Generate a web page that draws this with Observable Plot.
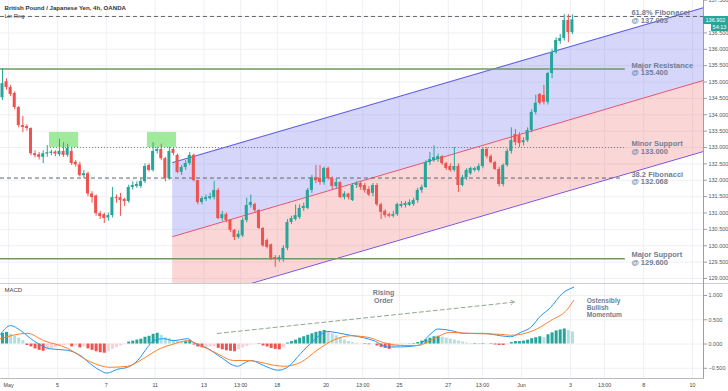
<!DOCTYPE html>
<html><head><meta charset="utf-8">
<script src="https://cdn.jsdelivr.net/npm/d3@7"></script>
<script src="https://cdn.jsdelivr.net/npm/@observablehq/plot@0.6"></script>
<style>
body{margin:0;background:#fff;font-family:"Liberation Sans",Arial,sans-serif;}
#wrap{position:relative;width:728px;height:391px;overflow:hidden;background:#fff;}
#wrap svg{display:block;}
#sep{height:1px;background:#c9ccd3;}
.tag{position:absolute;background:#26a69a;color:#fff;font-size:5.5px;line-height:7px;text-align:center;font-family:"Liberation Sans",Arial,sans-serif;}
</style></head><body>
<div id="wrap"></div>
<script>
// ---------- data ----------
const title = "British Pound / Japanese Yen, 4h, OANDA";
const open  = [134.52,135.01,134.83,134.65,134.22,133.67,133.64,133.58,132.81,132.78,132.70,132.80,132.82,132.86,132.78,132.88,132.76,132.88,132.55,132.47,132.14,132.20,131.58,131.52,130.98,130.95,130.85,130.92,131.47,131.47,131.42,131.35,131.78,131.81,131.81,131.96,132.45,132.30,132.88,132.94,132.66,132.05,132.94,132.76,132.24,132.39,132.51,132.76,131.99,131.32,131.41,131.44,131.47,131.69,130.83,130.95,130.77,130.47,130.25,130.30,130.77,131.23,131.26,131.08,130.53,130.16,130.03,129.64,129.58,129.58,129.92,130.71,130.80,130.86,131.14,131.14,131.69,132.08,132.05,131.93,132.36,132.05,131.81,131.93,131.47,131.58,131.38,131.84,131.90,131.84,131.72,131.60,131.84,131.25,131.05,130.95,130.90,130.95,131.20,131.23,131.23,131.26,131.38,131.69,131.78,132.54,132.60,132.63,132.72,132.51,132.42,132.30,132.42,131.84,132.08,132.20,132.30,132.30,132.42,132.94,132.72,132.54,132.33,131.87,132.45,132.88,133.40,133.36,133.15,133.21,133.52,134.07,134.62,134.59,134.38,135.26,135.90,136.24,136.33,136.88,136.51];
const high  = [135.41,135.10,134.90,134.70,134.25,133.95,133.70,133.60,132.90,132.85,132.90,133.06,132.92,132.90,133.25,133.15,133.10,133.00,132.60,132.55,132.30,132.25,131.65,131.55,131.05,131.00,131.00,131.78,131.55,131.60,131.45,131.85,131.95,131.95,132.05,132.50,132.50,133.15,133.00,133.10,132.70,133.00,133.00,132.80,132.45,132.60,132.85,132.80,132.00,131.50,131.55,131.60,131.96,131.75,131.05,131.00,130.80,130.50,130.45,130.85,131.45,131.55,131.30,131.10,130.55,130.20,130.05,129.70,129.70,130.00,130.80,130.90,131.25,131.25,131.30,131.75,132.15,132.45,132.45,132.40,132.40,132.10,132.05,131.95,131.65,131.60,131.90,131.95,131.95,131.90,131.80,131.90,131.90,131.30,131.10,131.00,131.05,131.30,131.35,131.35,131.40,131.45,131.75,131.85,132.60,132.85,133.05,132.80,132.75,132.55,132.50,133.00,132.50,132.15,132.35,132.40,132.40,132.50,133.00,133.00,132.78,132.58,132.40,132.50,132.95,133.60,133.55,133.45,133.30,133.60,134.15,134.60,134.65,134.90,135.30,136.00,136.35,136.45,137.06,137.06,137.05];
const low   = [134.44,134.75,134.55,134.15,133.60,133.45,133.50,132.75,132.68,132.62,132.51,132.70,132.75,132.72,132.72,132.70,132.70,132.45,132.40,132.10,132.05,131.50,131.30,130.90,130.80,130.68,130.75,130.85,131.30,130.90,131.20,131.30,131.70,131.75,131.75,131.90,132.25,132.25,132.80,132.60,131.95,132.00,132.75,132.20,132.15,132.30,132.45,131.95,131.25,131.25,131.35,131.40,131.40,130.80,130.75,130.70,130.40,130.16,130.20,130.25,130.70,131.15,131.00,130.50,129.95,129.90,129.55,129.34,129.50,129.50,129.85,130.65,130.75,130.80,131.05,131.10,131.60,131.90,131.85,131.85,132.00,131.70,131.75,131.45,131.40,131.40,131.35,131.75,131.70,131.60,131.50,131.50,131.20,130.80,130.85,130.85,130.85,130.90,131.15,131.15,131.20,131.20,131.30,131.60,131.75,132.45,132.55,132.55,132.45,132.30,132.25,132.25,131.63,131.80,132.00,132.15,132.25,132.25,132.35,132.65,132.50,132.30,131.80,131.80,132.40,132.80,133.05,133.00,133.05,133.15,133.45,134.00,134.30,134.30,134.30,135.10,135.85,136.15,136.25,136.20,136.45];
const close = [134.95,134.83,134.62,134.22,133.67,133.61,133.58,132.81,132.75,132.70,132.81,132.84,132.86,132.80,132.88,132.76,132.97,132.51,132.47,132.14,132.20,131.58,131.47,130.98,130.89,130.83,130.92,131.47,131.44,131.38,131.35,131.78,131.84,131.87,131.96,132.42,132.30,132.88,132.94,132.66,132.05,132.88,132.82,132.24,132.39,132.51,132.76,131.99,131.32,131.44,131.47,131.50,131.69,130.83,130.95,130.77,130.47,130.25,130.35,130.77,131.23,131.32,131.08,130.53,130.00,129.95,129.61,129.58,129.64,129.92,130.71,130.83,130.92,131.14,131.20,131.69,132.08,131.99,131.93,132.36,132.05,131.81,131.93,131.47,131.58,131.47,131.84,131.90,131.78,131.68,131.55,131.84,131.25,131.02,130.92,130.90,130.95,131.26,131.26,131.29,131.32,131.38,131.69,131.78,132.54,132.63,132.69,132.72,132.51,132.36,132.30,132.42,131.84,132.08,132.30,132.36,132.36,132.42,132.94,132.72,132.54,132.33,131.87,132.45,132.88,133.21,133.15,133.12,133.21,133.52,134.07,134.35,134.35,134.38,135.26,135.90,136.27,136.33,136.88,136.51,136.90];

// MACD histogram, one bar per candle
const macdHist = [0.22,0.24,0.20,0.16,0.12,0.07,-0.03,-0.06,-0.10,-0.13,-0.15,-0.13,-0.10,-0.07,-0.05,-0.03,-0.02,-0.06,-0.04,-0.08,-0.06,-0.10,-0.13,-0.16,-0.18,-0.19,-0.16,-0.11,-0.07,-0.04,-0.01,0.04,0.06,0.08,0.10,0.14,0.16,0.20,0.22,0.18,0.13,0.11,0.08,0.05,0.04,0.05,0.07,-0.02,-0.06,-0.08,-0.07,-0.06,-0.05,-0.09,-0.12,-0.14,-0.15,-0.16,-0.12,-0.08,-0.05,-0.02,-0.005,-0.01,-0.04,-0.06,-0.09,-0.11,-0.12,-0.08,0.02,0.05,0.08,0.12,0.15,0.18,0.21,0.24,0.26,0.28,0.25,0.21,0.17,0.12,0.08,0.05,0.03,0.015,0.005,-0.01,-0.015,-0.005,-0.04,-0.07,-0.09,-0.11,-0.08,-0.05,-0.02,-0.01,0.005,0.01,0.03,0.06,0.09,0.12,0.15,0.16,0.14,0.12,0.10,0.08,0.06,0.04,0.02,0.01,-0.01,0.005,0.01,0.005,-0.01,-0.02,-0.03,-0.03,-0.01,0.03,0.05,0.05,0.06,0.08,0.11,0.13,0.15,0.13,0.19,0.23,0.27,0.29,0.31,0.28,0.25];
// MACD and signal line, read at candle positions
const macdIdx = [-0.5,2,4.4,7.6,11.8,16,19.2,21.6,24.1,25.6,28.3,30.7,33.2,35.6,37.1,39.6,42,45.5,46.9,50.4,53.6,57.7,59.7,61,64.1,67.6,70,73.2,76.4,79.9,82.3,85.5,88.7,91.2,94.6,97.8,102,105.2,106.9,110,113.3,118.2,122.4,124.8,127.3,129.7,132.2,134.6,137.5,140.3];
const macdVal = [0.2,0.38,0.28,0.07,-0.1,-0.13,-0.24,-0.41,-0.55,-0.6,-0.52,-0.48,-0.34,-0.07,0.07,0.11,0.07,0.11,0.03,-0.09,-0.27,-0.46,-0.38,-0.34,-0.44,-0.54,-0.48,-0.2,0.07,0.26,0.23,0.18,0.13,0.07,-0.06,-0.06,-0.03,0.21,0.31,0.28,0.22,0.22,0.17,0.15,0.24,0.34,0.58,0.75,1.04,1.17];
const signalIdx = [-0.5,6.1,10.1,16,20.9,26.5,30.7,34.6,38.8,42,45.5,48.6,52.8,56.8,60.2,69,73.2,77.4,81.3,85.5,89.7,93.6,97.8,102,105.9,110,114.3,118.2,122.4,124.8,130.5,134.6,138.8,140.3];
const signalVal = [0.11,0.22,0.07,-0.09,-0.34,-0.48,-0.46,-0.3,-0.09,0.0,0.07,-0.03,-0.2,-0.34,-0.34,-0.46,-0.38,-0.12,0.08,0.17,0.14,0.03,-0.03,-0.03,0.11,0.24,0.22,0.21,0.2,0.18,0.28,0.48,0.72,0.9];

// linear regression channel (candle position -> price)
const linRegIdx   = [41.8, 172.2];
const linRegUpper = [132.54, 137.27];
const linRegMid   = [130.28, 135.05];
const linRegLower = [128.15, 132.88];

// horizontal levels
const levelPrice = [137.003, 135.4, 133.0, 132.068, 129.6];
const levelFrom  = [-0.5, -0.5, 11.8, -0.5, -0.5];
const levelTo    = [172.2, 153, 153, 152, 153];
const levelLabel = ["61.8% Fibonacci\n@ 137.003","Major Resistance\n@ 135.400","Minor Support\n@ 133.000","38.2 Fibonacci\n@ 132.068","Major Support\n@ 129.600"];
const levelKind  = ["fib","major","minor","fib","major"];
const labelIdx = 154.5;

// resistance zones (green boxes)
const zoneFrom = [11.55, 35.6];
const zoneTo   = [18.7, 42.75];
const zoneLow = 133.0, zoneHigh = 133.46;

// annotations in MACD pane
const trendFrom = [52.8, 0.217];
const trendTo   = [125.8, 0.864];
const risingText = "Rising\nOrder"; const risingAt = [93.6, 0.975];
const bullText = "Ostensibly\nBullish\nMomentum"; const bullAt = [143.5, 0.74];

// axes (137.000 sits under the last-price tag in the reference)
const priceTicks = [129.0,129.5,130.0,130.5,131.0,131.5,132.0,132.5,133.0,133.5,134.0,134.5,135.0,135.5,136.0,136.5,137.5];
const gridPrices = [129.0,129.5,130.0,130.5,131.0,131.5,132.0,132.5,133.0,133.5,134.0,134.5,135.0,135.5,136.0,136.5,137.0];
const macdTicks = [-0.5, 0.0, 0.5, 1.0];
const tickDays = [0,2,4,6,8,9.5,11,13,14.5,16,18,19.4,21,23,24.4,26,28];
const tickLabels = ["May","5","7","11","13","13:00","18","20","13:00","25","27","13:00","Jun","3","13:00","8","10"];
const lastPrice = "136.902", countdown = "54:13";

// ---------- build ----------
const UP = "#26a69a", DOWN = "#ef5350", GRID = "#eef0f4", LABEL = "#717e93";
const X_DOMAIN = [-0.49, 172.2];
const candles = open.map((o, i) => ({i, o, h: high[i], l: low[i], c: close[i], up: close[i] >= o}));
const channel = linRegIdx.map((x, k) => ({x, upper: linRegUpper[k], mid: linRegMid[k], lower: linRegLower[k]}));
const levels = levelPrice.map((y, k) => ({y, x1: levelFrom[k], x2: levelTo[k], label: levelLabel[k], kind: levelKind[k]}));
const zones = zoneFrom.map((x1, k) => ({x1, x2: zoneTo[k], y1: zoneLow, y2: zoneHigh}));
const xTicks = tickDays.map(d => 1.5 + 6 * d);
const tickMap = new Map(xTicks.map((x, k) => [x, tickLabels[k]]));
const hist = macdHist.map((v, i) => {
  const p = i > 0 ? macdHist[i - 1] : v;
  const col = v >= 0 ? (v >= p ? "#26a69a" : "#b2dfdb") : (v <= p ? "#ef5350" : "#ffcdd2");
  return {i, v, col};
});
const macdPts = macdIdx.map((x, k) => ({x, y: macdVal[k]}));
const sigPts = signalIdx.map((x, k) => ({x, y: signalVal[k]}));
const FONT = "Liberation Sans, Arial, sans-serif";

const main = Plot.plot({
  width: 728, height: 283, marginLeft: 0, marginRight: 25, marginTop: 0, marginBottom: 0,
  style: {fontFamily: FONT, background: "#fff", overflow: "visible"},
  x: {domain: X_DOMAIN, axis: null},
  y: {domain: [128.847, 137.49], axis: null},
  color: {type: "identity"},
  marks: [
    Plot.ruleY(gridPrices, {stroke: GRID}),
    Plot.ruleX(xTicks, {stroke: GRID}),
    Plot.areaY(channel, {x: "x", y1: "mid", y2: "upper", fill: "#5a5af0", fillOpacity: 0.25, clip: true}),
    Plot.areaY(channel, {x: "x", y1: "lower", y2: "mid", fill: "#f05a5a", fillOpacity: 0.25, clip: true}),
    Plot.line(channel, {x: "x", y: "upper", stroke: "#5b5be6", strokeWidth: 1, clip: true}),
    Plot.line(channel, {x: "x", y: "mid", stroke: "#e0557c", strokeWidth: 1, clip: true}),
    Plot.line(channel, {x: "x", y: "lower", stroke: "#7d4fdc", strokeWidth: 1, clip: true}),
    Plot.rect(zones, {x1: "x1", x2: "x2", y1: "y1", y2: "y2", fill: "#8fe68a", fillOpacity: 0.85}),
    Plot.ruleY(levels.filter(d => d.kind === "major"), {y: "y", x1: "x1", x2: "x2", stroke: "#6f9a5f", strokeWidth: 1.5}),
    Plot.ruleY(levels.filter(d => d.kind === "fib"), {y: "y", x1: "x1", x2: "x2", stroke: "#5f6368", strokeDasharray: "4,3"}),
    Plot.ruleY(levels.filter(d => d.kind === "minor"), {y: "y", x1: "x1", x2: "x2", stroke: "#7a7d84", strokeDasharray: "1,2"}),
    Plot.ruleX(candles, {x: "i", y1: "l", y2: "h", stroke: d => d.up ? UP : DOWN, strokeWidth: 1}),
    Plot.rect(candles, {x1: d => d.i - 0.37, x2: d => d.i + 0.37, y1: "o", y2: "c", fill: d => d.up ? UP : DOWN}),
    Plot.text(levels, {x: labelIdx, y: "y", text: "label", textAnchor: "start", lineAnchor: "middle", fontSize: 7.5, lineHeight: 1.02, fontWeight: "bold", fill: LABEL}),
    Plot.text([title], {frameAnchor: "top-left", lineAnchor: "middle", dx: 4, dy: 7.3, fontSize: 6.1, fontWeight: 600, fill: "#333"}),
    Plot.text(["Lin Reg"], {frameAnchor: "top-left", lineAnchor: "middle", dx: 4, dy: 15.6, fontSize: 5.8, fill: "#444"}),
    Plot.frame({anchor: "right", stroke: "#9a9ea8"}),
    Plot.axisY(priceTicks, {anchor: "right", tickFormat: d3.format(".3f"), tickSize: 3, tickPadding: 2, fontSize: 5.5, color: "#555", stroke: "#9a9ea8"})
  ]
});

const macd = Plot.plot({
  width: 728, height: 107, marginLeft: 0, marginRight: 25, marginTop: 0, marginBottom: 13,
  style: {fontFamily: FONT, background: "#fff", overflow: "visible"},
  x: {domain: X_DOMAIN, axis: null},
  y: {domain: [-0.711, 1.227], axis: null},
  color: {type: "identity"},
  marks: [
    Plot.ruleY(macdTicks, {stroke: GRID}),
    Plot.ruleX(xTicks, {stroke: GRID}),
    Plot.ruleX(hist, {x: "i", y1: 0, y2: "v", stroke: "col", strokeWidth: 3}),
    Plot.line(macdPts, {x: "x", y: "y", stroke: "#2196f3", strokeWidth: 1, curve: "monotone-x"}),
    Plot.line(sigPts, {x: "x", y: "y", stroke: "#ff7f2a", strokeWidth: 1, curve: "monotone-x"}),
    Plot.arrow([{x1: trendFrom[0], y1: trendFrom[1], x2: trendTo[0], y2: trendTo[1]}], {x1: "x1", y1: "y1", x2: "x2", y2: "y2", stroke: "#8ea88e", strokeDasharray: "4,3", headLength: 6, strokeWidth: 1}),
    Plot.text([risingText], {x: risingAt[0], y: risingAt[1], textAnchor: "middle", lineAnchor: "middle", fontSize: 7, lineHeight: 1.15, fontWeight: "bold", fill: LABEL}),
    Plot.text([bullText], {x: bullAt[0], y: bullAt[1], textAnchor: "start", lineAnchor: "middle", fontSize: 6.6, lineHeight: 1.05, fontWeight: "bold", fill: LABEL}),
    Plot.text(["MACD"], {frameAnchor: "top-left", lineAnchor: "middle", dx: 4, dy: 6, fontSize: 6, fill: "#444"}),
    Plot.frame({anchor: "right", stroke: "#9a9ea8"}),
    Plot.frame({anchor: "bottom", stroke: "#b8bbc2"}),
    Plot.axisY(macdTicks, {anchor: "right", tickFormat: d3.format(".3f"), tickSize: 3, tickPadding: 2, fontSize: 5.5, color: "#555", stroke: "#9a9ea8"}),
    Plot.axisX(xTicks, {anchor: "bottom", tickFormat: d => tickMap.get(d), tickSize: 0, tickPadding: 5, fontSize: 5.3, color: "#444"})
  ]
});

const wrap = document.getElementById("wrap");
wrap.appendChild(main);
const sep = document.createElement("div"); sep.id = "sep"; wrap.appendChild(sep);
wrap.appendChild(macd);
const t1 = document.createElement("div"); t1.className = "tag"; t1.textContent = lastPrice;
Object.assign(t1.style, {left: "703px", top: "16px", width: "25px", height: "8px", lineHeight: "8px"});
const t2 = document.createElement("div"); t2.className = "tag"; t2.textContent = countdown;
Object.assign(t2.style, {left: "711px", top: "24px", width: "17px", height: "7px"});
wrap.appendChild(t1); wrap.appendChild(t2);
</script>
</body></html>
